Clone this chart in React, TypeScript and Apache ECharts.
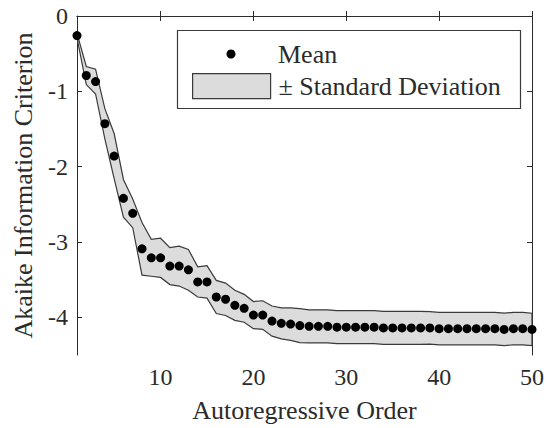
import React, { useEffect, useRef } from "react";
import * as echarts from "echarts";

const orders = [
  1, 2, 3, 4, 5, 6, 7, 8, 9, 10, 11, 12, 13, 14, 15, 16, 17, 18, 19, 20, 21, 22, 23, 24, 25,
  26, 27, 28, 29, 30, 31, 32, 33, 34, 35, 36, 37, 38, 39, 40, 41, 42, 43, 44, 45, 46, 47, 48, 49, 50,
];
const meanAIC = [
  -0.26, -0.79, -0.87, -1.43, -1.86, -2.42, -2.62, -3.09, -3.21, -3.21,
  -3.32, -3.32, -3.37, -3.53, -3.53, -3.73, -3.76, -3.84, -3.88, -3.97,
  -3.97, -4.05, -4.08, -4.09, -4.11, -4.12, -4.12, -4.12, -4.13, -4.13,
  -4.13, -4.13, -4.13, -4.14, -4.14, -4.14, -4.14, -4.14, -4.14, -4.15,
  -4.15, -4.15, -4.15, -4.15, -4.15, -4.15, -4.16, -4.15, -4.15, -4.16,
];
const stdAIC = [
  0.03, 0.12, 0.165, 0.2, 0.3, 0.25, 0.19, 0.35, 0.245, 0.26,
  0.245, 0.265, 0.27, 0.2, 0.215, 0.22, 0.215, 0.2, 0.185, 0.18,
  0.19, 0.2, 0.205, 0.215, 0.225, 0.22, 0.22, 0.22, 0.22, 0.22,
  0.22, 0.22, 0.22, 0.22, 0.22, 0.22, 0.22, 0.22, 0.215, 0.215,
  0.215, 0.215, 0.215, 0.215, 0.215, 0.215, 0.215, 0.215, 0.215, 0.215,
];
const xTicks = [10, 20, 30, 40, 50];
const yTicks = [-4, -3, -2, -1, 0];

const FONT = "'Liberation Serif', 'Times New Roman', Times, serif";
const INK = "#2b2b2b";
const BAND = "#dcdcdc";
const EDGE = "#3a3a3a";

export default function App() {
  const ref = useRef<HTMLDivElement>(null);
  useEffect(() => {
    document.body.style.margin = "0";
    if (!ref.current) return;
    const chart = echarts.init(ref.current, null, { renderer: "svg" });
    const bandData = orders.map((x, i) => [x, meanAIC[i] + stdAIC[i], meanAIC[i] - stdAIC[i]]);
    const means = orders.map((x, i) => [x, meanAIC[i]]);

    const axisCommon = {
      type: "value" as const,
      axisLine: { show: true, lineStyle: { color: INK, width: 1 } },
      splitLine: { show: false },
    };

    chart.setOption({
      animation: false,
      backgroundColor: "#ffffff",
      textStyle: { fontFamily: FONT },
      grid: { left: 77, right: 15, top: 16, bottom: 70, containLabel: false },
      xAxis: [
        {
          ...axisCommon,
          position: "bottom",
          min: 1,
          max: 50,
          name: "Autoregressive Order",
          nameLocation: "middle",
          nameGap: 42,
          nameTextStyle: { fontSize: 26, color: INK, fontFamily: FONT },
          axisTick: { inside: true, length: 5, customValues: xTicks, lineStyle: { color: INK } },
          axisLabel: { customValues: xTicks, fontSize: 24, color: INK, margin: 10, fontFamily: FONT },
        },
        {
          ...axisCommon,
          position: "top",
          min: 1,
          max: 50,
          axisTick: { inside: true, length: 5, customValues: xTicks, lineStyle: { color: INK } },
          axisLabel: { show: false },
        },
      ],
      yAxis: [
        {
          ...axisCommon,
          position: "left",
          min: -4.5,
          max: 0,
          name: "Akaike Information Criterion",
          nameLocation: "middle",
          nameGap: 41,
          nameTextStyle: { fontSize: 26, color: INK, fontFamily: FONT },
          axisTick: { inside: true, length: 5, customValues: yTicks, lineStyle: { color: INK } },
          axisLabel: {
            customValues: yTicks,
            fontSize: 24,
            color: INK,
            margin: 9,
            fontFamily: FONT,
            formatter: (v: number) => String(v),
          },
        },
        {
          ...axisCommon,
          position: "right",
          min: -4.5,
          max: 0,
          axisTick: { inside: true, length: 5, customValues: yTicks, lineStyle: { color: INK } },
          axisLabel: { show: false },
        },
      ],
      legend: [
        {
          data: [{ name: "Mean", icon: "circle", itemStyle: { color: "#000000", opacity: 1 } }],
          left: 226.5,
          top: 41,
          padding: 0,
          itemWidth: 78,
          itemHeight: 9,
          selectedMode: false,
          textStyle: { fontSize: 26, color: INK, fontFamily: FONT, padding: [0, 0, 0, 3] },
          z: 6,
        },
        {
          data: [
            {
              name: "± Standard Deviation",
              icon: "rect",
              itemStyle: { color: BAND, borderColor: EDGE, borderWidth: 1.2, opacity: 1 },
            },
          ],
          left: 192,
          top: 73,
          padding: 0,
          itemWidth: 78,
          itemHeight: 25,
          selectedMode: false,
          textStyle: { fontSize: 26, color: INK, fontFamily: FONT, padding: [0, 0, 0, 3] },
          z: 6,
        },
      ],
      graphic: [
        {
          type: "rect",
          z: 5,
          shape: { x: 177.5, y: 30.5, width: 343, height: 78 },
          style: { fill: "#ffffff", stroke: EDGE, lineWidth: 1.2 },
        },
      ],
      series: [
        {
          name: "± Standard Deviation",
          type: "custom",
          data: bandData,
          encode: { x: 0, y: [1, 2] },
          itemStyle: { color: BAND, borderColor: EDGE, borderWidth: 1.2 },
          silent: true,
          z: 2,
          renderItem: (params: any, api: any) => {
            if (params.dataIndex !== 0) return null;
            const upper = bandData.map((d) => api.coord([d[0], d[1]]));
            const lowerPts = bandData.map((d) => api.coord([d[0], d[2]])).reverse();
            return {
              type: "polygon",
              shape: { points: upper.concat(lowerPts) },
              style: { fill: BAND, stroke: EDGE, lineWidth: 1.2 },
            };
          },
        },
        {
          name: "Mean",
          type: "scatter",
          data: means,
          symbol: "circle",
          symbolSize: 9,
          itemStyle: { color: "#000000", opacity: 1 },
          z: 4,
        },
      ],
    });
    return () => chart.dispose();
  }, []);
  return <div ref={ref} style={{ width: 547, height: 428 }} />;
}
